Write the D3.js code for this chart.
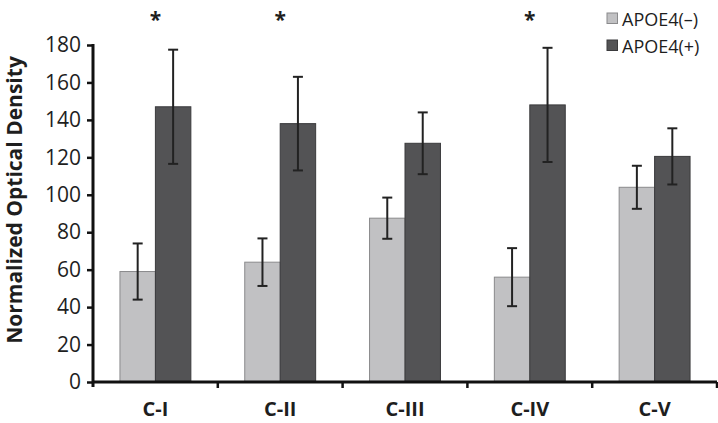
<!DOCTYPE html>
<html>
<head>
<meta charset="utf-8">
<script src="https://cdn.jsdelivr.net/npm/d3@7"></script>
<style>
  html, body { margin: 0; padding: 0; background: #fff; }
  svg { display: block; font-family: "Open Sans", sans-serif; }
</style>
</head>
<body>
<svg id="chart" width="718" height="423"></svg>
<script>
const categories = ["C-I", "C-II", "C-III", "C-IV", "C-V"];
const seriesNames = ["APOE4(–)", "APOE4(+)"];
const apoeNeg = [59, 64, 87.5, 56, 104];
const apoePos = [147, 138, 127.5, 148, 120.5];
const apoeNegErr = [15, 12.7, 11, 15.5, 11.5];
const apoePosErr = [30.5, 25, 16.5, 30.5, 15];
const significant = [true, true, false, true, false];
const yTicks = [0, 20, 40, 60, 80, 100, 120, 140, 160, 180];
const yTitle = "Normalized Optical Density";

const colors = ["#c1c1c3", "#535355"];
const strokes = ["#8a8a8c", "#3a3a3c"];
const textColor = "#1e1e1e";

const svg = d3.select("#chart");
const pLeft = 93, pRight = 717, pTop = 45, pBottom = 382;

const x = d3.scaleBand().domain(categories).range([pLeft, pRight]).paddingInner(0).paddingOuter(0);
const xs = d3.scaleBand().domain(seriesNames).range([0, x.bandwidth()]).paddingInner(0).paddingOuter(0.76);
const y = d3.scaleLinear().domain([0, 180]).range([pBottom, pTop]);

const data = categories.map((c, i) => ({
  cat: c,
  vals: [
    { s: seriesNames[0], v: apoeNeg[i], e: apoeNegErr[i], k: 0 },
    { s: seriesNames[1], v: apoePos[i], e: apoePosErr[i], k: 1 }
  ],
  sig: significant[i]
}));

// bars
const groups = svg.append("g").selectAll("g").data(data).join("g")
  .attr("transform", d => `translate(${x(d.cat)},0)`);

groups.selectAll("rect").data(d => d.vals).join("rect")
  .attr("x", d => xs(d.s))
  .attr("y", d => y(d.v))
  .attr("width", xs.bandwidth())
  .attr("height", d => y(0) - y(d.v))
  .attr("fill", d => colors[d.k])
  .attr("stroke", d => strokes[d.k])
  .attr("stroke-width", 1);

// error bars
const capW = 5;
groups.selectAll("g.err").data(d => d.vals).join("g").attr("class", "err")
  .each(function(d) {
    const g = d3.select(this);
    const cx = xs(d.s) + xs.bandwidth() / 2;
    g.append("line").attr("x1", cx).attr("x2", cx).attr("y1", y(d.v + d.e)).attr("y2", y(d.v - d.e))
      .attr("stroke", "#222").attr("stroke-width", 2);
    [d.v + d.e, d.v - d.e].forEach(vv => {
      g.append("line").attr("x1", cx - capW).attr("x2", cx + capW).attr("y1", y(vv)).attr("y2", y(vv))
        .attr("stroke", "#222").attr("stroke-width", 2);
    });
  });

// asterisks
svg.append("g").selectAll("text").data(data.filter(d => d.sig)).join("text")
  .attr("x", d => x(d.cat) + x.bandwidth() / 2)
  .attr("y", 27)
  .attr("text-anchor", "middle")
  .attr("font-size", 21)
  .attr("font-weight", "bold")
  .attr("fill", textColor)
  .text("*");

// y axis
const yAxis = d3.axisLeft(y).tickValues(yTicks).tickSize(6).tickSizeOuter(0).tickPadding(6);
const gy = svg.append("g").attr("transform", `translate(${pLeft},0)`).call(yAxis);
gy.select(".domain").remove();
gy.append("line").attr("x1", 0).attr("x2", 0).attr("y1", pTop - 1).attr("y2", pBottom + 5)
  .attr("stroke", "#111").attr("stroke-width", 3);
gy.selectAll(".tick line").attr("stroke", "#111").attr("stroke-width", 2.5);
gy.selectAll(".tick text").attr("font-size", 21).attr("fill", textColor)
  .attr("font-family", "Open Sans, sans-serif");

// x axis
const boundaries = categories.map(c => x(c)).concat([pRight]);
const gx = svg.append("g");
gx.append("line").attr("x1", pLeft).attr("x2", pRight).attr("y1", pBottom).attr("y2", pBottom)
  .attr("stroke", "#111").attr("stroke-width", 3);
gx.selectAll("line.tk").data(boundaries.slice(1)).join("line").attr("class", "tk")
  .attr("x1", d => d).attr("x2", d => d).attr("y1", pBottom).attr("y2", pBottom + 6)
  .attr("stroke", "#111").attr("stroke-width", 2.5);
gx.selectAll("text").data(categories).join("text")
  .attr("x", d => x(d) + x.bandwidth() / 2)
  .attr("y", 416)
  .attr("text-anchor", "middle")
  .attr("font-size", 20)
  .attr("font-weight", "bold")
  .attr("fill", textColor)
  .text(d => d);

// y title
svg.append("text")
  .attr("transform", `translate(22,200) rotate(-90)`)
  .attr("text-anchor", "middle")
  .attr("font-size", 21)
  .attr("font-weight", "bold")
  .attr("fill", textColor)
  .text(yTitle);

// legend
const lg = svg.append("g").selectAll("g").data(seriesNames).join("g")
  .attr("transform", (d, i) => `translate(607,${13 + i * 27})`);
lg.append("rect").attr("width", 10.5).attr("height", 10.5)
  .attr("fill", (d, i) => colors[i]).attr("stroke", (d, i) => strokes[i]).attr("stroke-width", 1);
lg.append("text").attr("x", 15).attr("y", 13).attr("font-size", 18).attr("fill", textColor).text(d => d);
</script>
</body>
</html>
